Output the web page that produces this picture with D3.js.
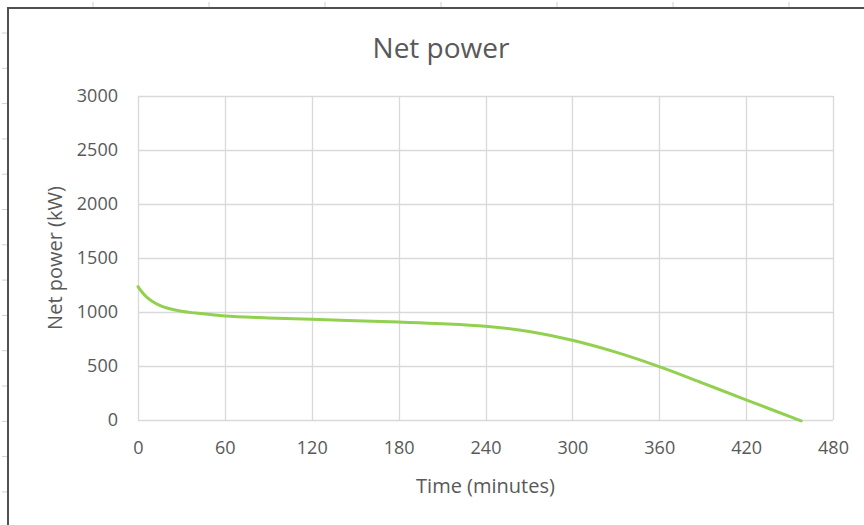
<!DOCTYPE html>
<html>
<head>
<meta charset="utf-8">
<script src="https://cdn.jsdelivr.net/npm/d3@7"></script>
<style>
  body { margin: 0; background: #fff; }
  text { font-family: "Open Sans", "Noto Sans", sans-serif; fill: #595959; }
</style>
</head>
<body>
<div id="chart"></div>
<script>
// data
var minutes = [0, 3, 6, 10, 15, 20, 30, 40, 60, 90, 120, 150, 180, 210, 240, 270, 300, 330, 360, 390, 420, 458];
var powerKW = [1235, 1180, 1138, 1098, 1062, 1037, 1006, 990, 963, 945, 932, 920, 907, 892, 868, 820, 738, 628, 494, 342, 187, -8];
var xTicks = [0, 60, 120, 180, 240, 300, 360, 420, 480];
var yTicks = [0, 500, 1000, 1500, 2000, 2500, 3000];

var svgWidth = 864;
var svgHeight = 525;

var margin = { top: 96, right: 31, bottom: 105, left: 138 };
var width = svgWidth - margin.left - margin.right;
var height = svgHeight - margin.top - margin.bottom;

var svg = d3.select("#chart")
  .append("svg")
  .attr("width", svgWidth)
  .attr("height", svgHeight);

// spreadsheet frame behind the chart
var frame = svg.append("g");
d3.range(93, 864, 116).forEach(function(x) {
  frame.append("line").attr("x1", x).attr("x2", x).attr("y1", 2).attr("y2", 7)
    .attr("stroke", "#d0d0d0").attr("stroke-width", 1);
});
d3.range(33, 525, 35.3).forEach(function(y) {
  frame.append("line").attr("x1", 2).attr("x2", 7).attr("y1", y).attr("y2", y)
    .attr("stroke", "#d0d0d0").attr("stroke-width", 1);
});
frame.append("line").attr("x1", 7).attr("x2", 864).attr("y1", 8).attr("y2", 8)
  .attr("stroke", "#505050").attr("stroke-width", 2);
frame.append("line").attr("x1", 8).attr("x2", 8).attr("y1", 7).attr("y2", 525)
  .attr("stroke", "#505050").attr("stroke-width", 2);

var chartGroup = svg.append("g")
  .attr("transform", `translate(${margin.left}, ${margin.top})`);

var x = d3.scaleLinear().domain([0, 480]).range([0, width]);
var y = d3.scaleLinear().domain([0, 3000]).range([height, 0]);

// gridlines
chartGroup.append("g")
  .selectAll("line")
  .data(yTicks)
  .enter()
  .append("line")
  .attr("x1", 0)
  .attr("x2", width)
  .attr("y1", d => Math.round(y(d)) + 0.5)
  .attr("y2", d => Math.round(y(d)) + 0.5)
  .attr("stroke", "#d9d9d9")
  .attr("stroke-width", 1.3);

chartGroup.append("g")
  .selectAll("line")
  .data(xTicks)
  .enter()
  .append("line")
  .attr("x1", d => Math.round(x(d)) + 0.5)
  .attr("x2", d => Math.round(x(d)) + 0.5)
  .attr("y1", 0)
  .attr("y2", height)
  .attr("stroke", "#d9d9d9")
  .attr("stroke-width", 1.3);

// axes (labels only, Excel style)
var bottomAxis = d3.axisBottom(x).tickValues(xTicks).tickFormat(d3.format("d")).tickSize(0).tickPadding(21);
var leftAxis = d3.axisLeft(y).tickValues(yTicks).tickFormat(d3.format("d")).tickSize(0).tickPadding(20);

var xAxis = chartGroup.append("g")
  .attr("transform", `translate(0, ${height})`)
  .call(bottomAxis);
var yAxis = chartGroup.append("g").call(leftAxis);

[xAxis, yAxis].forEach(function(a) {
  a.select(".domain").remove();
  a.selectAll("text")
    .style("font-family", '"Open Sans", "Noto Sans", sans-serif')
    .style("font-size", "18px")
    .attr("fill", "#595959");
});

// the line
var points = minutes.map((m, i) => [m, powerKW[i]]);
var line = d3.line()
  .x(d => x(d[0]))
  .y(d => y(d[1]))
  .curve(d3.curveCatmullRom.alpha(0.5));

chartGroup.append("path")
  .datum(points)
  .attr("fill", "none")
  .attr("stroke", "#92d050")
  .attr("stroke-width", 3)
  .attr("stroke-linecap", "round")
  .attr("d", line);

// titles
svg.append("text")
  .attr("x", 441)
  .attr("y", 58)
  .attr("text-anchor", "middle")
  .style("font-size", "28px")
  .text("Net power");

chartGroup.append("text")
  .attr("x", width / 2)
  .attr("y", height + 73)
  .attr("text-anchor", "middle")
  .style("font-size", "20px")
  .text("Time (minutes)");

chartGroup.append("text")
  .attr("transform", "rotate(-90)")
  .attr("x", -height / 2)
  .attr("y", -76)
  .attr("text-anchor", "middle")
  .style("font-size", "20px")
  .text("Net power (kW)");
</script>
</body>
</html>
